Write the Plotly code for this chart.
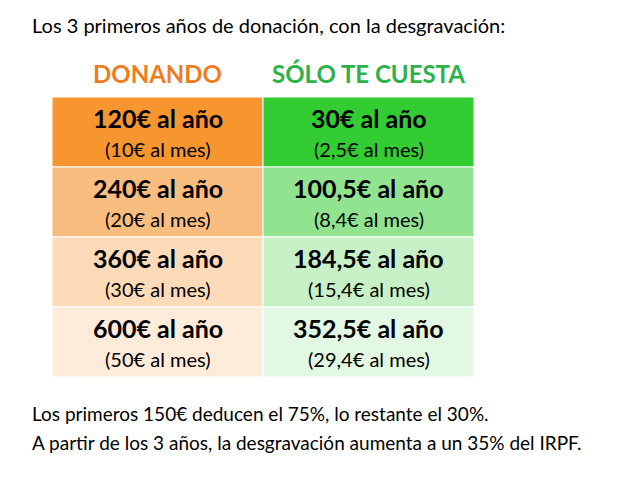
import plotly.graph_objects as go

title = "Los 3 primeros años de donación, con la desgravación:"
headers = ["DONANDO", "SÓLO TE CUESTA"]
header_colors = ["#EE7D22", "#2DB24A"]
donando_year = ["120€ al año", "240€ al año", "360€ al año", "600€ al año"]
donando_month = ["(10€ al mes)", "(20€ al mes)", "(30€ al mes)", "(50€ al mes)"]
cuesta_year = ["30€ al año", "100,5€ al año", "184,5€ al año", "352,5€ al año"]
cuesta_month = ["(2,5€ al mes)", "(8,4€ al mes)", "(15,4€ al mes)", "(29,4€ al mes)"]
left_fill = ["#F7962F", "#FABD80", "#FDDAB8", "#FEEBD9"]
right_fill = ["#33CC33", "#92E38F", "#C8F0C6", "#E3F8E2"]
footer = ["Los primeros 150€ deducen el 75%, lo restante el 30%.",
          "A partir de los 3 años, la desgravación aumenta a un 35% del IRPF."]

FONT = "Lato"
D = 8  # page offset
fig = go.Figure()
x0, cw = 52 - D, 211
y0, rh = 97 - D, 70
shapes, ann = [], []
cols = [(donando_year, donando_month, left_fill), (cuesta_year, cuesta_month, right_fill)]
for c, (yr, mo, fills) in enumerate(cols):
    xl = x0 + c * cw
    ann.append(dict(x=xl + cw / 2, y=73 - D, text="<b>%s</b>" % headers[c], showarrow=False,
                    font=dict(family=FONT, size=24, color=header_colors[c])))
    for r in range(len(yr)):
        yt = y0 + r * rh
        shapes.append(dict(type="rect", xref="x", yref="y", x0=xl, x1=xl + cw, y0=yt, y1=yt + rh,
                           fillcolor=fills[r], line=dict(color="white", width=1), layer="below"))
        ann.append(dict(x=xl + cw / 2, y=yt + 21, text="<b>%s</b>" % yr[r], showarrow=False,
                        font=dict(family=FONT, size=25, color="black")))
        ann.append(dict(x=xl + cw / 2, y=yt + 52, text=mo[r], showarrow=False,
                        font=dict(family=FONT, size=20, color="black")))
ann.append(dict(x=30 - D, y=25 - D, text=title, showarrow=False, xanchor="left",
                font=dict(family=FONT, size=20, color="black")))
for i, t in enumerate(footer):
    ann.append(dict(x=30 - D, y=413 - D + i * 29, text=t, showarrow=False, xanchor="left",
                    font=dict(family=FONT, size=19, color="black")))

fig.add_trace(go.Scatter(x=[0, 625], y=[0, 480], mode="markers", marker=dict(opacity=0),
                         hoverinfo="skip", showlegend=False))
fig.update_layout(width=625, height=480, margin=dict(l=0, r=0, t=0, b=0),
                  paper_bgcolor="white", plot_bgcolor="white", shapes=shapes, annotations=ann,
                  xaxis=dict(range=[0, 625], visible=False, fixedrange=True),
                  yaxis=dict(range=[480, 0], visible=False, fixedrange=True))
fig.write_html("out.html")
